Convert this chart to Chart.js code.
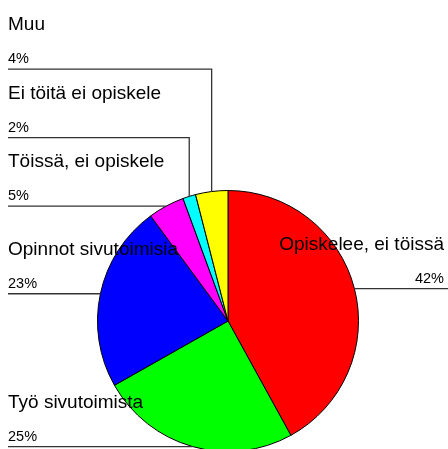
<!DOCTYPE html>
<html><head><meta charset="utf-8">
<script src="https://cdn.jsdelivr.net/npm/chart.js@4/dist/chart.umd.min.js"></script>
<style>
html,body{margin:0;padding:0;overflow:hidden;background:#fff;width:448px;height:449px}
#wrap{position:absolute;left:0;top:0;width:448px;height:460px}
</style>
</head><body><div id="wrap"><canvas id="c" width="448" height="460"></canvas></div>
<script>
const categories = ["Opiskelee, ei töissä","Työ sivutoimista","Opinnot sivutoimisia","Töissä, ei opiskele","Ei töitä ei opiskele","Muu"];
const shares = [42, 24.8, 23.1, 4.5, 1.6, 4.0];
const percentLabels = ["42%","25%","23%","5%","2%","4%"];
const sliceColors = ["#ff0000","#00ff00","#0000ff","#ff00ff","#00ffff","#ffff00"];

const FONT = '"Liberation Sans", Arial, sans-serif';

const outLabels = {
  id: 'outLabels',
  afterDatasetsDraw(chart) {
    const ctx = chart.ctx;
    const meta = chart.getDatasetMeta(0);
    const W = chart.width;
    const items = meta.data.map((arc, i) => {
      const p = arc.getProps(['x','y','startAngle','endAngle','outerRadius'], true);
      const mid = (p.startAngle + p.endAngle) / 2;
      return { i, ex: p.x + Math.cos(mid) * p.outerRadius, ey: p.y + Math.sin(mid) * p.outerRadius, right: Math.cos(mid) > 0 };
    });
    const gap = 68.5;
    const left = items.filter(d => !d.right).sort((a, b) => b.ey - a.ey);
    let prev = Infinity;
    left.forEach(d => { d.ly = Math.min(d.ey, prev - gap); prev = d.ly; });
    items.filter(d => d.right).forEach(d => { d.ly = d.ey; });

    ctx.save();
    ctx.strokeStyle = '#333';
    ctx.lineWidth = 1.3;
    items.forEach(d => {
      ctx.beginPath();
      if (d.right) {
        ctx.moveTo(d.ex, d.ly); ctx.lineTo(W, d.ly);
      } else {
        ctx.moveTo(8, d.ly); ctx.lineTo(d.ex, d.ly);
        if (d.ly < d.ey - 1) ctx.lineTo(d.ex, d.ey);
      }
      ctx.stroke();
    });
    ctx.fillStyle = '#000';
    ctx.textBaseline = 'alphabetic';
    items.forEach(d => {
      const x = d.right ? W - 4 : 8;
      ctx.textAlign = d.right ? 'right' : 'left';
      ctx.font = '19px ' + FONT;
      ctx.fillText(categories[d.i], x, d.ly - 39);
      ctx.font = '14.5px ' + FONT;
      ctx.fillText(percentLabels[d.i], x, d.ly - 6);
    });
    ctx.restore();
  }
};

new Chart(document.getElementById('c'), {
  type: 'pie',
  data: {
    labels: categories,
    datasets: [{
      data: shares,
      backgroundColor: sliceColors,
      borderColor: '#000',
      borderWidth: 1
    }]
  },
  options: {
    responsive: false,
    animation: false,
    layout: { padding: { left: 97, right: 89, top: 190, bottom: 8 } },
    plugins: { legend: { display: false }, tooltip: { enabled: false } }
  },
  plugins: [outLabels]
});
</script>
</body></html>
